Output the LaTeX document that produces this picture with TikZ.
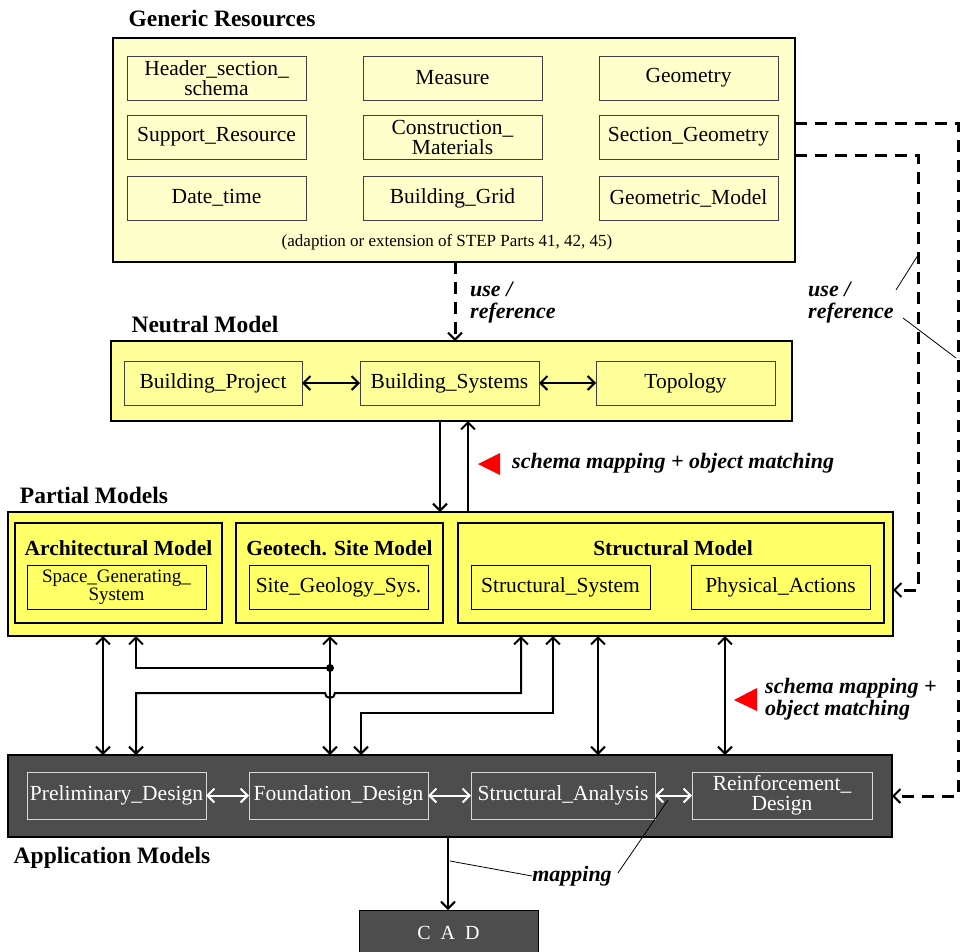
\documentclass[tikz,border=0pt]{standalone}
\usepackage{fontspec}
\setmainfont{Liberation Serif}
\usetikzlibrary{arrows.meta}
\definecolor{genfill}{HTML}{FFFFCC}
\definecolor{neufill}{HTML}{FFFF99}
\definecolor{partfill}{HTML}{FFFF66}
\definecolor{appfill}{HTML}{4D4D4D}
\definecolor{tri}{HTML}{FF0000}
\begin{document}
\begin{tikzpicture}[x=1pt,y=-1pt,
  tipx/.tip={Straight Barb[length=7pt,width=14pt,line width=2pt]},
  bigbox/.style={draw=black,line width=1.6pt,inner sep=0pt,outer sep=0pt},
  ibox/.style={draw=black!75,line width=0.9pt,inner sep=0pt,outer sep=0pt,align=center,
    minimum width=179pt,minimum height=44pt,font=\fontsize{21.5}{20}\selectfont},
  pbox/.style={draw=black,line width=1.8pt,inner sep=0pt,outer sep=0pt,fill=partfill,
    minimum height=100pt},
  abox/.style={draw=white!85!black,line width=0.9pt,inner sep=0pt,outer sep=0pt,align=center,
    minimum width=179pt,minimum height=47pt,text=white,font=\fontsize{21.5}{20}\selectfont},
  title/.style={font=\bfseries\fontsize{23.5}{24}\selectfont,inner sep=0pt},
  ptitle/.style={font=\bfseries\fontsize{21.5}{22}\selectfont,inner sep=0pt},
  lbl/.style={font=\bfseries\itshape\fontsize{22}{22}\selectfont,inner sep=0pt,align=left},
  conn/.style={line width=2pt,{tipx}-{tipx}},
  conn1/.style={line width=2pt,-{tipx}},
  dconn/.style={line width=3pt,dash pattern=on 12pt off 8pt,-{Straight Barb[length=7pt,width=14pt,line width=2pt]}},
  wconn/.style={white,line width=2pt,{tipx}-{tipx}},
  leader/.style={line width=0.8pt}
]
\useasboundingbox (0,0) rectangle (963,951);
\clip (0,0) rectangle (963,951);

% ---------- Generic resources ----------
\node[title] (tgen) at (222,18) {Generic Resources};
\node[bigbox,fill=genfill,minimum width=682pt,minimum height=224pt] (gen) at (454,150) {};
\node[ibox,fill=genfill] (g11) at (216.5,78) {Header\_section\_\\schema};
\node[ibox,fill=genfill] (g12) at (452.5,78) {Measure};
\node[ibox,fill=genfill] (g13) at (688.5,78) {Geometry};
\node[ibox,fill=genfill] (g21) at (216.5,137) {Support\_Resource};
\node[ibox,fill=genfill] (g22) at (452.5,137) {Construction\_\\Materials};
\node[ibox,fill=genfill] (g23) at (688.5,137) {Section\_Geometry};
\node[ibox,fill=genfill] (g31) at (216.5,198) {Date\_time};
\node[ibox,fill=genfill] (g32) at (452.5,198) {Building\_Grid};
\node[ibox,fill=genfill] (g33) at (688.5,198) {Geometric\_Model};
\node[inner sep=0pt,font=\fontsize{17}{17}\selectfont] (gnote) at (447,242) {(adaption or extension of STEP Parts 41, 42, 45)};

% ---------- Neutral model ----------
\node[title] (tneu) at (205,324) {Neutral Model};
\node[bigbox,fill=neufill,minimum width=681pt,minimum height=80pt] (neu) at (451.5,381) {};
\node[ibox,fill=neufill,minimum width=178pt] (bp) at (213,383) {Building\_Project};
\node[ibox,fill=neufill] (bs) at (449.5,383) {Building\_Systems};
\node[ibox,fill=neufill] (topo) at (685.5,383) {Topology};
\draw[conn] (bp) -- (bs);
\draw[conn] (bs) -- (topo);

% ---------- Partial models ----------
\node[title] (tpart) at (94,495) {Partial Models};
\node[bigbox,fill=partfill,minimum width=885pt,minimum height=124pt] (part) at (450.5,574) {};
\node[pbox,minimum width=207pt] (arch) at (118.5,573) {};
\node[pbox,minimum width=207pt] (geo) at (339.5,573) {};
\node[pbox,minimum width=426pt] (stru) at (671,573) {};
\node[ptitle] at (118.5,548) {Architectural Model};
\node[ptitle] at (339.5,548) {Geotech. Site Model};
\node[ptitle] at (673,548) {Structural Model};
\node[ibox,draw=black,fill=partfill,font=\fontsize{19}{18}\selectfont] (space) at (116.5,587) {Space\_Generating\_\\System};
\node[ibox,draw=black,fill=partfill] (site) at (338.5,587) {Site\_Geology\_Sys.};
\node[ibox,draw=black,fill=partfill] (ssys) at (560.5,587) {Structural\_System};
\node[ibox,draw=black,fill=partfill] (phys) at (780.5,587) {Physical\_Actions};

% ---------- Application models ----------
\node[bigbox,fill=appfill,minimum width=884pt,minimum height=82pt] (app) at (450,796) {};
\node[abox] (prel) at (116.5,795.5) {Preliminary\_Design};
\node[abox] (found) at (338.5,795.5) {Foundation\_Design};
\node[abox,minimum width=184pt] (stran) at (563,795.5) {Structural\_Analysis};
\node[abox,minimum width=180pt] (reinf) at (782,795.5) {Reinforcement\_\\Design};
\draw[wconn] (prel) -- (found);
\draw[wconn] (found) -- (stran);
\draw[wconn] (stran) -- (reinf);
\node[title] (tapp) at (112,858) {Application Models};

% CAD
\node[bigbox,line width=1pt,fill=appfill,minimum width=179pt,minimum height=50pt] (cad) at (448.5,935) {};
\node[text=white,inner sep=0pt,font=\fontsize{20}{20}\selectfont] at (448.5,933) {C\,\,\,A\,\,\,D};

% ---------- helper x coordinates ----------
\coordinate (x103) at (103,0);
\coordinate (x136) at (136,0);
\coordinate (x330) at (330,0);
\coordinate (x361) at (361,0);
\coordinate (x440) at (440,0);
\coordinate (x448) at (448,0);
\coordinate (x455) at (455,0);
\coordinate (x468) at (468,0);
\coordinate (x521) at (521,0);
\coordinate (x553) at (553,0);
\coordinate (x598) at (598,0);
\coordinate (x725) at (725,0);

% ---------- Generic -> Neutral ----------
\draw[dconn] (gen.south -| x455) -- (neu.north -| x455);
\node[lbl,anchor=west] (lab1) at (470,303) {use /\\reference};

% ---------- Neutral <-> Partial ----------
\draw[conn1] (neu.south -| x440) -- (part.north -| x440);
\draw[conn1] (part.north -| x468) -- (neu.south -| x468);
\fill[tri] (478,464) -- (500,453) -- (500,475) -- cycle;
\node[lbl,anchor=west] (lab2) at (512,463) {schema mapping + object matching};

% ---------- Partial <-> Application ----------
\coordinate (dot) at (330,668);
\coordinate (hopR) at (335,693);
\coordinate (bendB) at (136,693);
\coordinate (bendC) at (361,713);
\draw[conn] (part.south -| x103) -- (app.north -| x103);
\draw[conn] (part.south -| x330) -- (app.north -| x330);
\draw[conn1] (dot) -| (part.south -| x136);
\fill (dot) circle (4pt);
\draw[conn] (part.south -| x521) |- (hopR) arc[start angle=0,end angle=-180,radius=5pt] -- (bendB) -- (app.north -| x136);
\draw[conn] (part.south -| x553) |- (bendC) -- (app.north -| x361);
\draw[conn] (part.south -| x598) -- (app.north -| x598);
\draw[conn] (part.south -| x725) -- (app.north -| x725);
\fill[tri] (734,700) -- (757,688) -- (757,711) -- cycle;
\node[lbl,anchor=west] (lab3) at (765,699) {schema mapping +\\object matching};

% ---------- Application -> CAD ----------
\draw[conn1] (app.south -| x448) -- (cad.north -| x448);
\node[lbl] (lab4) at (572,876) {mapping};
\coordinate (m1) at (450,861);
\coordinate (m2) at (668,800);
\draw[leader] (m1) -- (lab4.west);
\draw[leader] (lab4.east) ++(6pt,3pt) -- (m2);

% ---------- right dashed lines ----------
\coordinate (r1) at (958,123);
\coordinate (r2) at (918,155);
\coordinate (r2b) at (918,590);
\draw[dconn] (gen.east |- r1) -- (r1) |- (app.east);
\draw[dconn] (gen.east |- r2) -- (r2) -- (r2b) -- (part.east |- r2b);
\node[lbl,anchor=west] (lab5) at (808,303) {use /\\reference};
\coordinate (u1) at (918,255);
\coordinate (u2) at (956,358);
\draw[leader] (896,290) -- (u1);
\draw[leader] (903,318) -- (u2);
\end{tikzpicture}
\end{document}
